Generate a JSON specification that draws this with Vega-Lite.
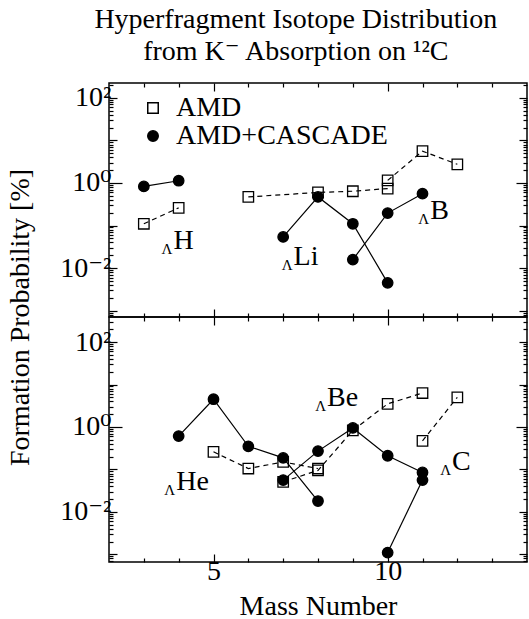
{
  "$schema": "https://vega.github.io/schema/vega-lite/v6.json",
  "background": "white",
  "padding": {"left": 5, "top": 5, "right": 0, "bottom": 0},
  "bounds": "flush",
  "spacing": 0,
  "title": {
    "text": ["Hyperfragment Isotope Distribution", "from K⁻ Absorption on ¹²C"],
    "font": "Liberation Serif, Times New Roman, DejaVu Serif, serif", "fontSize": 28, "fontWeight": "normal", "color": "black",
    "anchor": "middle", "lineHeight": 32, "offset": 16, "dx": 29
  },
  "config": {
    "font": "Liberation Serif, Times New Roman, DejaVu Serif, serif",
    "view": {"stroke": "black", "strokeWidth": 1.5},
    "axis": {
      "domain": false, "grid": false, "tickColor": "black", "tickWidth": 1.2,
      "labelFont": "Liberation Serif, Times New Roman, DejaVu Serif, serif", "labelFontSize": 28, "labelColor": "black",
      "titleFont": "Liberation Serif, Times New Roman, DejaVu Serif, serif", "titleFontSize": 28, "titleColor": "black", "titleFontWeight": "normal"
    },
    "legend": {
      "labelFont": "Liberation Serif, Times New Roman, DejaVu Serif, serif", "labelFontSize": 28, "labelColor": "black", "labelLimit": 400
    },
    "text": {"font": "Liberation Serif, Times New Roman, DejaVu Serif, serif"}
  },
  "datasets": {
    "pts": [
      {"panel": "top", "series": "AMD", "chain": "H-AMD", "A": 3, "P": 0.11},
      {"panel": "top", "series": "AMD", "chain": "H-AMD", "A": 4, "P": 0.26},
      {"panel": "top", "series": "AMD", "chain": "Li-AMD", "A": 6, "P": 0.47},
      {"panel": "top", "series": "AMD", "chain": "Li-AMD", "A": 8, "P": 0.6},
      {"panel": "top", "series": "AMD", "chain": "Li-AMD", "A": 9, "P": 0.64},
      {"panel": "top", "series": "AMD", "chain": "Li-AMD", "A": 10, "P": 0.74},
      {"panel": "top", "series": "AMD", "chain": "B-AMD", "A": 10, "P": 1.15},
      {"panel": "top", "series": "AMD", "chain": "B-AMD", "A": 11, "P": 5.6},
      {"panel": "top", "series": "AMD", "chain": "B-AMD", "A": 12, "P": 2.75},
      {"panel": "bottom", "series": "AMD", "chain": "He-AMD", "A": 5, "P": 0.26},
      {"panel": "bottom", "series": "AMD", "chain": "He-AMD", "A": 6, "P": 0.105},
      {"panel": "bottom", "series": "AMD", "chain": "He-AMD", "A": 7, "P": 0.15},
      {"panel": "bottom", "series": "AMD", "chain": "He-AMD", "A": 8, "P": 0.105},
      {"panel": "bottom", "series": "AMD", "chain": "Be-AMD", "A": 7, "P": 0.051},
      {"panel": "bottom", "series": "AMD", "chain": "Be-AMD", "A": 8, "P": 0.095},
      {"panel": "bottom", "series": "AMD", "chain": "Be-AMD", "A": 9, "P": 0.83},
      {"panel": "bottom", "series": "AMD", "chain": "Be-AMD", "A": 10, "P": 3.5},
      {"panel": "bottom", "series": "AMD", "chain": "Be-AMD", "A": 11, "P": 6.3},
      {"panel": "bottom", "series": "AMD", "chain": "C-AMD", "A": 11, "P": 0.47},
      {"panel": "bottom", "series": "AMD", "chain": "C-AMD", "A": 12, "P": 5.0},
      {"panel": "top", "series": "AMD+CASCADE", "chain": "H-C", "A": 3, "P": 0.83},
      {"panel": "top", "series": "AMD+CASCADE", "chain": "H-C", "A": 4, "P": 1.13},
      {"panel": "top", "series": "AMD+CASCADE", "chain": "Li-C", "A": 7, "P": 0.054},
      {"panel": "top", "series": "AMD+CASCADE", "chain": "Li-C", "A": 8, "P": 0.47},
      {"panel": "top", "series": "AMD+CASCADE", "chain": "Li-C", "A": 9, "P": 0.11},
      {"panel": "top", "series": "AMD+CASCADE", "chain": "Li-C", "A": 10, "P": 0.0045},
      {"panel": "top", "series": "AMD+CASCADE", "chain": "B-C", "A": 9, "P": 0.0158},
      {"panel": "top", "series": "AMD+CASCADE", "chain": "B-C", "A": 10, "P": 0.196},
      {"panel": "top", "series": "AMD+CASCADE", "chain": "B-C", "A": 11, "P": 0.56},
      {"panel": "bottom", "series": "AMD+CASCADE", "chain": "He-C", "A": 4, "P": 0.61},
      {"panel": "bottom", "series": "AMD+CASCADE", "chain": "He-C", "A": 5, "P": 4.5},
      {"panel": "bottom", "series": "AMD+CASCADE", "chain": "He-C", "A": 6, "P": 0.35},
      {"panel": "bottom", "series": "AMD+CASCADE", "chain": "He-C", "A": 7, "P": 0.187},
      {"panel": "bottom", "series": "AMD+CASCADE", "chain": "He-C", "A": 8, "P": 0.018},
      {"panel": "bottom", "series": "AMD+CASCADE", "chain": "Be-C", "A": 7, "P": 0.056},
      {"panel": "bottom", "series": "AMD+CASCADE", "chain": "Be-C", "A": 8, "P": 0.27},
      {"panel": "bottom", "series": "AMD+CASCADE", "chain": "Be-C", "A": 9, "P": 0.95},
      {"panel": "bottom", "series": "AMD+CASCADE", "chain": "Be-C", "A": 10, "P": 0.21},
      {"panel": "bottom", "series": "AMD+CASCADE", "chain": "Be-C", "A": 11, "P": 0.085},
      {"panel": "bottom", "series": "AMD+CASCADE", "chain": "C-C", "A": 10, "P": 0.0011},
      {"panel": "bottom", "series": "AMD+CASCADE", "chain": "C-C", "A": 11, "P": 0.056}
    ],
    "labs": [
      {"panel": "top", "label": "H", "A": 3.85, "P": 0.028},
      {"panel": "top", "label": "Li", "A": 7.3, "P": 0.0115},
      {"panel": "top", "label": "B", "A": 11.22, "P": 0.145},
      {"panel": "bottom", "label": "He", "A": 3.93, "P": 0.032},
      {"panel": "bottom", "label": "Be", "A": 8.26, "P": 3.07},
      {"panel": "bottom", "label": "C", "A": 11.85, "P": 0.096}
    ]
  },
  "resolve": {"scale": {"shape": "independent", "fill": "independent"}},
  "vconcat": [
    {
      "width": 418, "height": 234,
      "resolve": {"axis": {"x": "independent", "y": "independent"}},
      "layer": [
        {
          "data": {"name": "pts"},
          "transform": [{"filter": "datum.panel == 'top' && datum.series == 'AMD'"}],
          "mark": {"type": "line", "stroke": "black", "strokeWidth": 1.2, "strokeDash": [5, 4]},
          "encoding": {
            "x": {"field": "A", "type": "quantitative", "scale": {"domain": [2, 14], "nice": false},
                  "axis": {"orient": "bottom", "values": [5, 10], "tickSize": -8, "labels": false, "title": null}},
            "y": {"field": "P", "type": "quantitative", "scale": {"type": "log", "domain": [0.000708, 224], "nice": false},
                  "axis": {"orient": "left", "values": [0.001, 0.01, 0.1, 1, 10, 100], "tickSize": {"condition": {"test": "datum.value == 1", "value": -13}, "value": -8},
                           "labelPadding": {"condition": {"test": "datum.value == 1", "value": 11}, "value": 6},
                           "labelExpr": "datum.value == 100 ? '10²' : datum.value == 1 ? '10⁰' : datum.value == 0.01 ? '10⁻²' : ''",
                           "title": "Formation Probability [%]", "titleY": 234, "titleX": -81, "titleAngle": -90, "titleBaseline": "alphabetic", "titleAlign": "center"}},
            "detail": {"field": "chain"}
          }
        },
        {
          "data": {"name": "pts"},
          "transform": [{"filter": "datum.panel == 'top' && datum.series == 'AMD+CASCADE'"}],
          "mark": {"type": "line", "stroke": "black", "strokeWidth": 1.2},
          "encoding": {
            "x": {"field": "A", "type": "quantitative", "scale": {"domain": [2, 14], "nice": false},
                  "axis": {"orient": "top", "values": [5, 10], "tickSize": -8, "labels": false, "title": null}},
            "y": {"field": "P", "type": "quantitative", "scale": {"type": "log", "domain": [0.000708, 224], "nice": false},
                  "axis": {"orient": "right", "values": [0.001, 0.01, 0.1, 1, 10, 100], "tickSize": {"condition": {"test": "datum.value == 1", "value": -11}, "value": -8}, "labels": false, "title": null}},
            "detail": {"field": "chain"}
          }
        },
        {
          "data": {"name": "pts"},
          "transform": [{"filter": "datum.panel == 'top'"}],
          "mark": {"type": "point", "filled": true, "stroke": "black", "strokeWidth": 1.3, "size": 110, "opacity": 1},
          "encoding": {
            "x": {"field": "A", "type": "quantitative", "scale": {"domain": [2, 14], "nice": false},
                  "axis": {"orient": "bottom", "values": [3, 4, 6, 7, 8, 9, 11, 12, 13], "tickSize": -4, "labels": false, "title": null}},
            "y": {"field": "P", "type": "quantitative", "scale": {"type": "log", "domain": [0.000708, 224], "nice": false},
                  "axis": {"orient": "left", "values": [0.0008, 0.0009, 0.002, 0.003, 0.004, 0.005, 0.006, 0.007, 0.008, 0.009, 0.02, 0.03, 0.04, 0.05, 0.06, 0.07, 0.08, 0.09, 0.2, 0.3, 0.4, 0.5, 0.6, 0.7, 0.8, 0.9, 2, 3, 4, 5, 6, 7, 8, 9, 20, 30, 40, 50, 60, 70, 80, 90, 200], "tickSize": -4, "labels": false, "title": null}},
            "shape": {"field": "series", "type": "nominal", "scale": {"domain": ["AMD", "AMD+CASCADE"], "range": ["square", "circle"]},
                      "legend": {"orient": "none", "legendX": 30, "legendY": 11, "title": null, "symbolSize": 110, "labelOffset": 9, "rowPadding": -2, "padding": 0,
                                 "encode": {"symbols": {"update": {"stroke": {"value": "black"}, "strokeWidth": {"value": 1.3}}}}}},
            "fill": {"field": "series", "type": "nominal", "scale": {"domain": ["AMD", "AMD+CASCADE"], "range": ["transparent", "black"]},
                     "legend": {"orient": "none", "legendX": 30, "legendY": 11, "title": null, "symbolSize": 110, "labelOffset": 9, "rowPadding": -2, "padding": 0,
                                "encode": {"symbols": {"update": {"stroke": {"value": "black"}, "strokeWidth": {"value": 1.3}}}}}}
          }
        },
        {
          "data": {"name": "labs"},
          "transform": [{"filter": "datum.panel == 'top'"}],
          "mark": {"type": "text", "text": "Λ", "align": "right", "baseline": "alphabetic", "dx": -1, "dy": 5, "fontSize": 15, "color": "black"},
          "encoding": {
            "x": {"field": "A", "type": "quantitative", "scale": {"domain": [2, 14], "nice": false},
                  "axis": {"orient": "top", "values": [3, 4, 6, 7, 8, 9, 11, 12, 13], "tickSize": -4, "labels": false, "title": null}},
            "y": {"field": "P", "type": "quantitative", "scale": {"type": "log", "domain": [0.000708, 224], "nice": false},
                  "axis": {"orient": "right", "values": [0.0008, 0.0009, 0.002, 0.003, 0.004, 0.005, 0.006, 0.007, 0.008, 0.009, 0.02, 0.03, 0.04, 0.05, 0.06, 0.07, 0.08, 0.09, 0.2, 0.3, 0.4, 0.5, 0.6, 0.7, 0.8, 0.9, 2, 3, 4, 5, 6, 7, 8, 9, 20, 30, 40, 50, 60, 70, 80, 90, 200], "tickSize": -4, "labels": false, "title": null}}
          }
        },
        {
          "data": {"name": "labs"},
          "transform": [{"filter": "datum.panel == 'top'"}],
          "mark": {"type": "text", "align": "left", "baseline": "alphabetic", "fontSize": 28, "color": "black"},
          "encoding": {
            "x": {"field": "A", "type": "quantitative", "scale": {"domain": [2, 14], "nice": false}, "axis": null},
            "y": {"field": "P", "type": "quantitative", "scale": {"type": "log", "domain": [0.000708, 224], "nice": false}, "axis": null},
            "text": {"field": "label"}
          }
        }
      ]
    },
    {
      "width": 418, "height": 245,
      "resolve": {"axis": {"x": "independent", "y": "independent"}},
      "layer": [
        {
          "data": {"name": "pts"},
          "transform": [{"filter": "datum.panel == 'bottom' && datum.series == 'AMD'"}],
          "mark": {"type": "line", "stroke": "black", "strokeWidth": 1.2, "strokeDash": [5, 4]},
          "encoding": {
            "x": {"field": "A", "type": "quantitative", "scale": {"domain": [2, 14], "nice": false},
                  "axis": {"orient": "bottom", "values": [5, 10], "tickSize": -8, "labelPadding": 3, "title": "Mass Number", "titlePadding": 7}},
            "y": {"field": "P", "type": "quantitative", "scale": {"type": "log", "domain": [0.00066, 389], "nice": false},
                  "axis": {"orient": "left", "values": [0.001, 0.01, 0.1, 1, 10, 100], "tickSize": {"condition": {"test": "datum.value == 1", "value": -13}, "value": -8},
                           "labelPadding": {"condition": {"test": "datum.value == 1", "value": 11}, "value": 6},
                           "labelExpr": "datum.value == 100 ? '10²' : datum.value == 1 ? '10⁰' : datum.value == 0.01 ? '10⁻²' : ''",
                           "title": null}},
            "detail": {"field": "chain"}
          }
        },
        {
          "data": {"name": "pts"},
          "transform": [{"filter": "datum.panel == 'bottom' && datum.series == 'AMD+CASCADE'"}],
          "mark": {"type": "line", "stroke": "black", "strokeWidth": 1.2},
          "encoding": {
            "x": {"field": "A", "type": "quantitative", "scale": {"domain": [2, 14], "nice": false},
                  "axis": {"orient": "top", "values": [5, 10], "tickSize": -8, "labels": false, "title": null}},
            "y": {"field": "P", "type": "quantitative", "scale": {"type": "log", "domain": [0.00066, 389], "nice": false},
                  "axis": {"orient": "right", "values": [0.001, 0.01, 0.1, 1, 10, 100], "tickSize": {"condition": {"test": "datum.value == 1", "value": -11}, "value": -8}, "labels": false, "title": null}},
            "detail": {"field": "chain"}
          }
        },
        {
          "data": {"name": "pts"},
          "transform": [{"filter": "datum.panel == 'bottom'"}],
          "mark": {"type": "point", "filled": true, "stroke": "black", "strokeWidth": 1.3, "size": 110, "opacity": 1},
          "encoding": {
            "x": {"field": "A", "type": "quantitative", "scale": {"domain": [2, 14], "nice": false},
                  "axis": {"orient": "bottom", "values": [3, 4, 6, 7, 8, 9, 11, 12, 13], "tickSize": -4, "labels": false, "title": null}},
            "y": {"field": "P", "type": "quantitative", "scale": {"type": "log", "domain": [0.00066, 389], "nice": false},
                  "axis": {"orient": "left", "values": [0.0007, 0.0008, 0.0009, 0.002, 0.003, 0.004, 0.005, 0.006, 0.007, 0.008, 0.009, 0.02, 0.03, 0.04, 0.05, 0.06, 0.07, 0.08, 0.09, 0.2, 0.3, 0.4, 0.5, 0.6, 0.7, 0.8, 0.9, 2, 3, 4, 5, 6, 7, 8, 9, 20, 30, 40, 50, 60, 70, 80, 90, 200, 300], "tickSize": -4, "labels": false, "title": null}},
            "shape": {"field": "series", "type": "nominal", "scale": {"domain": ["AMD", "AMD+CASCADE"], "range": ["square", "circle"]}, "legend": null},
            "fill": {"field": "series", "type": "nominal", "scale": {"domain": ["AMD", "AMD+CASCADE"], "range": ["transparent", "black"]}, "legend": null}
          }
        },
        {
          "data": {"name": "labs"},
          "transform": [{"filter": "datum.panel == 'bottom'"}],
          "mark": {"type": "text", "text": "Λ", "align": "right", "baseline": "alphabetic", "dx": -1, "dy": 5, "fontSize": 15, "color": "black"},
          "encoding": {
            "x": {"field": "A", "type": "quantitative", "scale": {"domain": [2, 14], "nice": false},
                  "axis": {"orient": "top", "values": [3, 4, 6, 7, 8, 9, 11, 12, 13], "tickSize": -4, "labels": false, "title": null}},
            "y": {"field": "P", "type": "quantitative", "scale": {"type": "log", "domain": [0.00066, 389], "nice": false},
                  "axis": {"orient": "right", "values": [0.0007, 0.0008, 0.0009, 0.002, 0.003, 0.004, 0.005, 0.006, 0.007, 0.008, 0.009, 0.02, 0.03, 0.04, 0.05, 0.06, 0.07, 0.08, 0.09, 0.2, 0.3, 0.4, 0.5, 0.6, 0.7, 0.8, 0.9, 2, 3, 4, 5, 6, 7, 8, 9, 20, 30, 40, 50, 60, 70, 80, 90, 200, 300], "tickSize": -4, "labels": false, "title": null}}
          }
        },
        {
          "data": {"name": "labs"},
          "transform": [{"filter": "datum.panel == 'bottom'"}],
          "mark": {"type": "text", "align": "left", "baseline": "alphabetic", "fontSize": 28, "color": "black"},
          "encoding": {
            "x": {"field": "A", "type": "quantitative", "scale": {"domain": [2, 14], "nice": false}, "axis": null},
            "y": {"field": "P", "type": "quantitative", "scale": {"type": "log", "domain": [0.00066, 389], "nice": false}, "axis": null},
            "text": {"field": "label"}
          }
        }
      ]
    }
  ]
}
